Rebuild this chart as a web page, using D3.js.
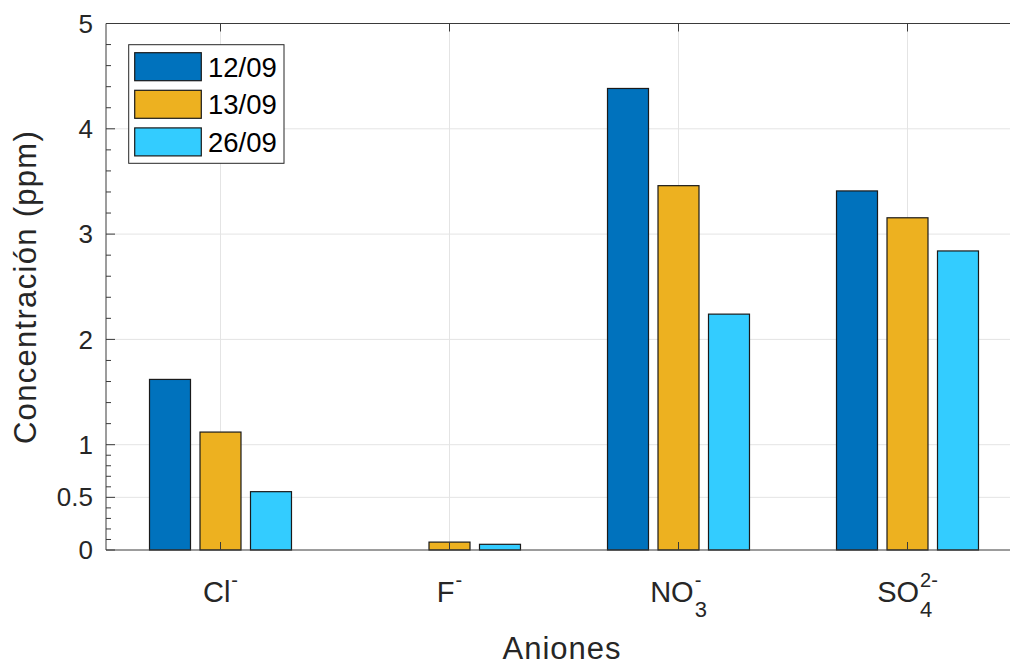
<!DOCTYPE html>
<html><head><meta charset="utf-8">
<script src="https://cdn.jsdelivr.net/npm/d3@7"></script>
<style>body{margin:0;background:#fff}svg{display:block}</style></head>
<body><svg id="c" width="1010" height="665"></svg>
<script>
// ---- data ----
const categories = ["Cl-", "F-", "NO3-", "SO4 2-"];
const catBase = ["Cl", "F", "NO", "SO"];
const catSub  = ["", "", "3", "4"];
const catSup  = ["-", "-", "-", "2-"];
const seriesNames = ["12/09", "13/09", "26/09"];
const s1209 = [1.62, 0, 4.383, 3.41];
const s1309 = [1.12, 0.075, 3.46, 3.155];
const s2609 = [0.554, 0.054, 2.24, 2.84];
const yTicks = [0, 0.5, 1, 2, 3, 4, 5];
const yTickLabels = ["0", "0.5", "1", "2", "3", "4", "5"];
const yGrid = [0.5, 1, 2, 3, 4];
const colors = ["#0072BD", "#EDB120", "#33CCFF"];
const xLabel = "Aniones";
const yLabel = "Concentración (ppm)";

(function () {
const series = [s1209, s1309, s2609];
const svg = d3.select("#c");
const pL = 106, pR = 1022, pT = 23.5, pB = 550;
const textColor = "#262626", font = "'Liberation Sans', Arial, Helvetica, sans-serif";

const x = d3.scaleLinear().domain([0.5, 4.5]).range([pL, pR]);
const y = d3.scaleLinear().domain([0, 5]).range([pB, pT]);
const barW = x(0.179) - x(0);
const offs = [-0.2205, 0, 0.2205];

// grid
const g = svg.append("g");
g.selectAll("line.hg").data(yGrid).join("line")
  .attr("x1", pL).attr("x2", pR).attr("y1", d => y(d)).attr("y2", d => y(d))
  .attr("stroke", "#e4e4e4").attr("stroke-width", 1);
g.selectAll("line.vg").data(categories).join("line")
  .attr("x1", (d, i) => x(i + 1)).attr("x2", (d, i) => x(i + 1)).attr("y1", pT).attr("y2", pB)
  .attr("stroke", "#e4e4e4").attr("stroke-width", 1);

// bars
series.forEach((s, k) => {
  const pts = s.map((v, i) => ({ v, i })).filter(p => p.v > 0);
  svg.append("g").selectAll("rect").data(pts).join("rect")
    .attr("x", p => x(p.i + 1 + offs[k]) - barW / 2)
    .attr("width", barW)
    .attr("y", p => y(p.v))
    .attr("height", p => y(0) - y(p.v))
    .attr("fill", colors[k]).attr("stroke", "#1a1a1a").attr("stroke-width", 1.2);
});

// axes
const ax = svg.append("g").attr("stroke", "#3a3a3a").attr("stroke-width", 1);
ax.append("line").attr("x1", pL).attr("x2", pR).attr("y1", pB).attr("y2", pB);
ax.append("line").attr("x1", pL).attr("x2", pR).attr("y1", pT).attr("y2", pT);
ax.append("line").attr("x1", pL).attr("x2", pL).attr("y1", pT).attr("y2", pB);
ax.selectAll("line.ymaj").data(yTicks).join("line")
  .attr("x1", pL).attr("x2", pL + 9).attr("y1", d => y(d)).attr("y2", d => y(d));
const minor = d3.range(0.1, 1, 0.1).concat(d3.range(1.2, 5, 0.2)).filter(v => !yTicks.some(t => Math.abs(t - v) < 1e-6));
ax.selectAll("line.ymin").data(minor).join("line")
  .attr("x1", pL).attr("x2", pL + 5).attr("y1", d => y(d)).attr("y2", d => y(d));
categories.forEach((c, i) => {
  ax.append("line").attr("x1", x(i + 1)).attr("x2", x(i + 1)).attr("y1", pB).attr("y2", pB - 8);
  ax.append("line").attr("x1", x(i + 1)).attr("x2", x(i + 1)).attr("y1", pT).attr("y2", pT + 8);
});

// y tick labels
svg.append("g").selectAll("text").data(yTicks).join("text")
  .attr("x", 93).attr("y", d => y(d)).attr("dy", "0.35em")
  .attr("text-anchor", "end").attr("font-family", font).attr("font-size", 26)
  .attr("fill", textColor).text((d, i) => yTickLabels[i]);

// x tick labels with sub/superscripts
categories.forEach((c, i) => {
  const cx = x(i + 1);
  const gg = svg.append("g").attr("font-family", font).attr("fill", textColor);
  const base = gg.append("text").attr("y", 602).attr("font-size", 29).text(catBase[i]);
  const bw = base.node().getComputedTextLength();
  let sw = 0, pw = 0, sub, sup;
  if (catSub[i]) { sub = gg.append("text").attr("y", 617).attr("font-size", 22).text(catSub[i]); sw = sub.node().getComputedTextLength(); }
  if (catSup[i]) { sup = gg.append("text").attr("y", 587).attr("font-size", 20).text(catSup[i]); pw = sup.node().getComputedTextLength(); }
  const total = bw + 1 + Math.max(sw, pw);
  const x0 = cx - total / 2;
  base.attr("x", x0);
  if (sub) sub.attr("x", x0 + bw + 1);
  if (sup) sup.attr("x", x0 + bw + 1);
});

// axis labels
svg.append("text").attr("x", 562).attr("y", 659).attr("text-anchor", "middle")
  .attr("font-family", font).attr("font-size", 31).attr("fill", textColor)
  .attr("letter-spacing", 1).text(xLabel);
svg.append("text").attr("transform", "translate(36,287) rotate(-90)")
  .attr("text-anchor", "middle").attr("font-family", font).attr("font-size", 31)
  .attr("fill", textColor).attr("letter-spacing", 1.3).text(yLabel);

// legend
const lg = svg.append("g");
lg.append("rect").attr("x", 128.7).attr("y", 44.7).attr("width", 155.3).attr("height", 118.6)
  .attr("fill", "#fff").attr("stroke", "#262626").attr("stroke-width", 1);
seriesNames.forEach((n, k) => {
  const cy = 66.7 + k * 37.6;
  lg.append("rect").attr("x", 134.7).attr("y", cy - 14).attr("width", 66.6).attr("height", 28)
    .attr("fill", colors[k]).attr("stroke", "#1a1a1a").attr("stroke-width", 1.2);
  lg.append("text").attr("x", 208).attr("y", cy).attr("dy", "0.36em")
    .attr("font-family", font).attr("font-size", 27.5).attr("fill", "#000").text(n);
});
})();
</script></body></html>
